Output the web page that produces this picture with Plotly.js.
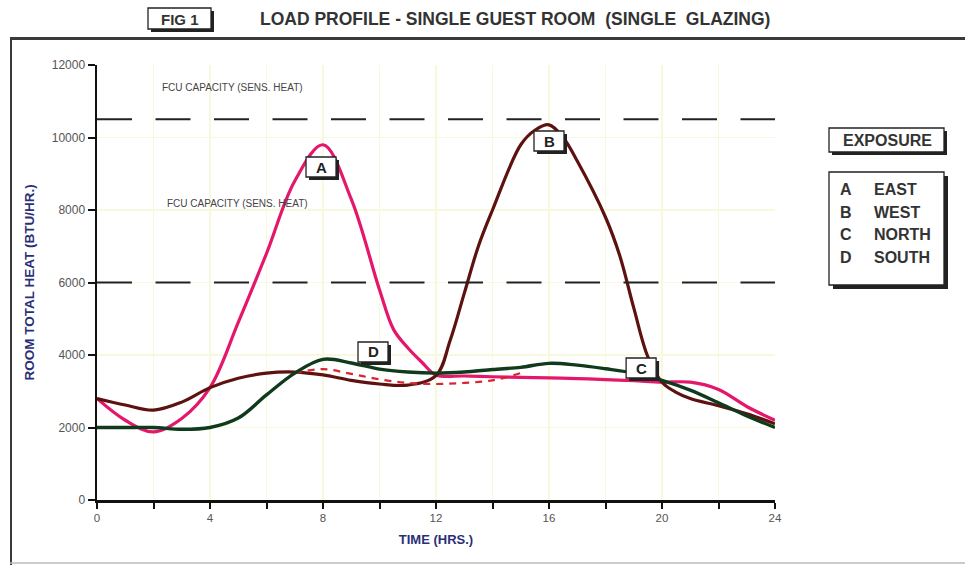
<!DOCTYPE html>
<html>
<head>
<meta charset="utf-8">
<script src="https://cdn.plot.ly/plotly-3.0.1.min.js"></script>
<style>html,body{margin:0;padding:0;background:#fff;}#chart{width:965px;height:565px;}</style>
</head>
<body>
<div id="chart"></div>
<script>
// ---- data ----
const eastHours = [0,1,2,3,4,5,6,7,8,9,10,10.5,11,11.5,12,13,14,15,16,17,18,19,20,21,22,23,24];
const eastLoad  = [2800,2200,1880,2250,3100,4900,6800,8800,9800,8300,5800,4700,4200,3800,3450,3420,3400,3380,3370,3350,3320,3290,3250,3250,3050,2580,2200];

const westHours = [0,1,2,3,4,5,6,7,8,9,10,11,12,12.5,13,13.5,14,15,15.5,16,16.5,17,18,18.5,19,19.5,20,20.5,21,22,23,24];
const westLoad  = [2800,2620,2480,2700,3100,3360,3500,3530,3450,3300,3200,3170,3430,4400,5700,7000,8000,9800,10200,10350,10000,9350,7800,6750,5300,3950,3250,2970,2800,2600,2380,2100];

const northHours = [0,1,2,3,4,5,6,7,8,9,10,11,12,13,14,15,16,17,18,19,20,21,22,23,24];
const northLoad  = [2000,2000,2000,1950,2000,2260,2900,3500,3880,3780,3610,3530,3500,3530,3600,3660,3770,3720,3620,3500,3300,3030,2680,2320,2000];

const southHours = [7,8,9,10,11,12,13,14,15];
const southLoad  = [3500,3610,3480,3330,3230,3200,3230,3300,3500];

const capacityLevels = [10500, 6000];
const capacityLabel = 'FCU CAPACITY (SENS. HEAT)';

const xTickVals = [0,2,4,6,8,10,12,14,16,18,20,22,24];
const xTickText = ['0','','4','','8','','12','','16','','20','','24'];
const yTickVals = [0,2000,4000,6000,8000,10000,12000];
const yTickText = ['0','2000','4000','6000','8000','10000','12000'];

const seriesLetters = ['A','B','C','D'];
const seriesNames = ['EAST','WEST','NORTH','SOUTH'];

// ---- helpers (pixel -> paper / data) ----
const L = 97, R = 775, T = 65, B = 500;
const px = v => (v - L) / (R - L);
const py = v => (B - v) / (B - T);
const HR_PER_PX = 24 / (R - L);
const BTU_PER_PX = 12000 / (B - T);
const FONT = 'Liberation Sans, Arial, sans-serif';

const traces = [
  {x: eastHours, y: eastLoad, name: 'A EAST', mode: 'lines', line: {color: '#e5176a', width: 3.2, shape: 'spline', smoothing: 1}},
  {x: westHours, y: westLoad, name: 'B WEST', mode: 'lines', line: {color: '#5e1210', width: 3.2, shape: 'spline', smoothing: 1}},
  {x: southHours, y: southLoad, name: 'D SOUTH', mode: 'lines', line: {color: '#d8262e', width: 2.2, dash: '7px,6px', shape: 'spline', smoothing: 1}},
  {x: northHours, y: northLoad, name: 'C NORTH', mode: 'lines', line: {color: '#0f3a1c', width: 3.4, shape: 'spline', smoothing: 1}}
];

const shapes = [];
// capacity dashed lines
capacityLevels.forEach(v => shapes.push({type: 'line', xref: 'x', yref: 'y', x0: 0, x1: 24, y0: v, y1: v,
  line: {color: '#222', width: 2, dash: '35px,23.5px'}, layer: 'above'}));
// frame
shapes.push({type: 'line', xref: 'paper', yref: 'paper', x0: px(10), x1: px(966), y0: py(38.5), y1: py(38.5), line: {color: '#3a3a3a', width: 3}});
shapes.push({type: 'line', xref: 'paper', yref: 'paper', x0: px(11), x1: px(11), y0: py(38), y1: py(566), line: {color: '#3a3a3a', width: 2}});
shapes.push({type: 'line', xref: 'paper', yref: 'paper', x0: px(10), x1: px(966), y0: py(563), y1: py(563), line: {color: '#bbbbbb', width: 1.5}});

function shadowBox(x0, y0, x1, y1, off) {
  shapes.push({type: 'rect', xref: 'paper', yref: 'paper', x0: px(x0 + off), x1: px(x1 + off), y0: py(y0 + off), y1: py(y1 + off),
    fillcolor: '#222', line: {width: 0}});
  shapes.push({type: 'rect', xref: 'paper', yref: 'paper', x0: px(x0), x1: px(x1), y0: py(y0), y1: py(y1),
    fillcolor: '#fff', line: {color: '#222', width: 1.3}});
}
shadowBox(148, 8, 211, 29, 3);
shadowBox(829, 128, 944, 152, 3);
shadowBox(829, 172, 944, 285, 4);

const annotations = [];
const txtFont = {family: FONT, size: 16, color: '#333'};
function note(x, y, text, font, xa) {
  annotations.push({xref: 'paper', yref: 'paper', x: px(x), y: py(y), xanchor: xa || 'center', yanchor: 'middle',
    text: text, showarrow: false, font: font});
}
note(180, 19, '<b>FIG 1</b>', Object.assign({}, txtFont, {size: 15}));
note(258, 19, '<b>LOAD PROFILE - SINGLE GUEST ROOM  (SINGLE  GLAZING)</b>', Object.assign({}, txtFont, {size: 17.5}), 'left');
note(887, 140, '<b>EXPOSURE</b>', txtFont);
const rowsY = [189, 212, 235, 257];
seriesLetters.forEach((s, i) => {
  note(838, rowsY[i], '<b>' + s + '</b>', txtFont, 'left');
  note(872, rowsY[i], '<b>' + seriesNames[i] + '</b>', txtFont, 'left');
});
// capacity labels
note(160, 88, capacityLabel, {family: FONT, size: 10, color: '#444'}, 'left');
note(165, 203, capacityLabel, {family: FONT, size: 10, color: '#444'}, 'left');

// curve letter labels with shadow boxes
const letterPos = [[7.93, 9186], [16.0, 9903], [19.26, 3641], [9.77, 4083]];
const bw = 30 * HR_PER_PX / 2, bh = 20 * BTU_PER_PX / 2, so = 3;
letterPos.forEach((p, i) => {
  shapes.push({type: 'rect', xref: 'x', yref: 'y', x0: p[0] - bw + so * HR_PER_PX, x1: p[0] + bw + so * HR_PER_PX,
    y0: p[1] - bh - so * BTU_PER_PX, y1: p[1] + bh - so * BTU_PER_PX, fillcolor: '#222', line: {width: 0}, layer: 'above'});
  shapes.push({type: 'rect', xref: 'x', yref: 'y', x0: p[0] - bw, x1: p[0] + bw, y0: p[1] - bh, y1: p[1] + bh,
    fillcolor: '#fff', line: {color: '#222', width: 1.3}, layer: 'above'});
  annotations.push({x: p[0], y: p[1], xref: 'x', yref: 'y', xanchor: 'center', yanchor: 'middle',
    text: '<b>' + seriesLetters[i] + '</b>', showarrow: false, font: {family: FONT, size: 15, color: '#222'}});
});

const layout = {
  width: 965, height: 565,
  margin: {l: L, r: 965 - R, t: T, b: 565 - B},
  paper_bgcolor: '#fff', plot_bgcolor: '#fff',
  showlegend: false,
  font: {family: FONT},
  xaxis: {
    range: [0, 24], tickvals: xTickVals, ticktext: xTickText,
    showline: true, linecolor: '#111', linewidth: 2.5,
    ticks: 'outside', ticklen: 6, tickwidth: 2, tickcolor: '#111',
    showgrid: true, gridcolor: '#f8f8dc', gridwidth: 1.5, zeroline: false,
    tickfont: {size: 11.5, color: '#555'},
    title: {text: '<b>TIME (HRS.)</b>', font: {size: 13, color: '#2a2f78'}, standoff: 12}
  },
  yaxis: {
    range: [0, 12000], tickvals: yTickVals, ticktext: yTickText,
    showline: true, linecolor: '#111', linewidth: 2.5,
    ticks: 'outside', ticklen: 7, tickwidth: 2, tickcolor: '#111',
    showgrid: true, gridcolor: '#f8f8dc', gridwidth: 1.5, zeroline: false,
    tickfont: {size: 12, color: '#555'},
    title: {text: '<b>ROOM TOTAL HEAT (BTU/HR.)</b>', font: {size: 13.5, color: '#2a2f78'}, standoff: 14}
  },
  xaxis2: {overlaying: 'x', anchor: 'y', range: [0, 24], tickvals: xTickVals, showticklabels: false,
    ticks: 'inside', ticklen: 5, tickwidth: 2, tickcolor: '#111', showgrid: false, showline: false, zeroline: false, side: 'bottom'},
  yaxis2: {overlaying: 'y', anchor: 'x', range: [0, 12000], tickvals: yTickVals, showticklabels: false,
    ticks: 'inside', ticklen: 3, tickwidth: 2, tickcolor: '#111', showgrid: false, showline: false, zeroline: false, side: 'left'},
  shapes: shapes,
  annotations: annotations
};

Plotly.newPlot('chart', traces, layout, {staticPlot: true, displayModeBar: false});
</script>
</body>
</html>
